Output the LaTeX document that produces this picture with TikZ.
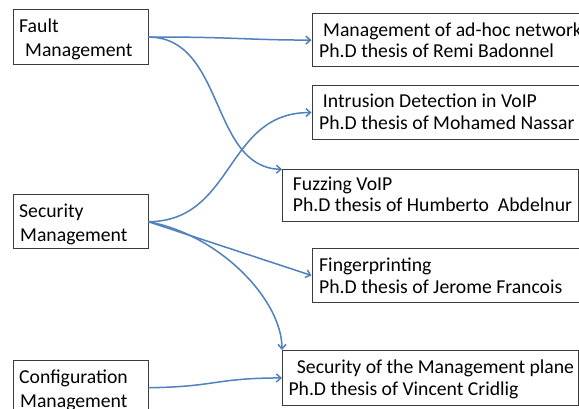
\documentclass[tikz,border=0pt]{standalone}
\usepackage{fontspec}
\setmainfont{Carlito}
\usetikzlibrary{arrows.meta}
\definecolor{connblue}{RGB}{79,129,189}
\definecolor{frame}{RGB}{60,60,60}
\begin{document}
\begin{tikzpicture}[x=1pt,y=-1pt,
  box/.style={draw=frame, line width=0.9pt, rectangle, inner sep=0pt, anchor=north west},
  txt/.style={inner sep=0pt, anchor=base west, font=\fontsize{19.7}{23}\selectfont, text=black},
  conn/.style={draw=connblue, line width=1.5pt, -{Straight Barb[length=4.5pt,width=8pt]}}]
\useasboundingbox (0,0) rectangle (579,409);
\clip (0,0) rectangle (579,409);
\fill[white] (0,0) rectangle (579,409);
% left boxes
\node[box, minimum width=135pt, minimum height=54.7pt] (f) at (12.5,9.3) {};
\node[box, minimum width=135pt, minimum height=54pt] (s) at (12.5,194.3) {};
\node[box, minimum width=135pt, minimum height=54.5pt] (c) at (12.5,360) {};
% right boxes
\node[box, minimum width=300pt, minimum height=52.7pt] (b1) at (311.5,13.3) {};
\node[box, minimum width=300pt, minimum height=53.7pt] (b2) at (311.5,85.3) {};
\node[box, minimum width=296pt, minimum height=51.7pt] (b3) at (282,169.3) {};
\node[box, minimum width=300pt, minimum height=54pt] (b4) at (311.5,248) {};
\node[box, minimum width=296pt, minimum height=55pt] (b5) at (282,350) {};
% texts
\node[txt] (f1) at (19,32.7) {Fault};
\node[txt] (f2) at (25,56.2) {Management};
\node[txt] (s1) at (19,217.7) {Security};
\node[txt] (s2) at (20,241) {Management};
\node[txt] (c1) at (19,383.4) {Configuration};
\node[txt] (c2) at (20,407) {Management};
\node[txt] (t11) at (323,36.3) {Management of ad-hoc network};
\node[txt] (t12) at (319,57.8) {Ph.D thesis of Remi Badonnel};
\node[txt] (t21) at (322.7,108) {Intrusion Detection in VoIP};
\node[txt] (t22) at (319,129.5) {Ph.D thesis of Mohamed Nassar};
\node[txt] (t31) at (292.7,190.3) {Fuzzing VoIP};
\node[txt] (t32) at (292.7,211.8) {Ph.D thesis of Humberto\ \ Abdelnur};
\node[txt] (t41) at (319,272) {Fingerprinting};
\node[txt] (t42) at (319,294) {Ph.D thesis of Jerome Francois};
\node[txt] (t51) at (296.7,373.5) {Security of the Management plane};
\node[txt] (t52) at (288.3,395.5) {Ph.D thesis of Vincent Cridlig};
% connectors
\draw[conn] (f.east) .. controls (230,36.7) and (245,40) .. (b1.west);
\draw[conn] (f.east) .. controls (225,37) and (210,168) .. (b3.north west);
\draw[conn] (s.east) .. controls (235,221) and (225,112) .. (b2.west);
\draw[conn] (s.east) -- (b4.west);
\draw[conn] (s.east) .. controls (220,235) and (282,300) .. (b5.north west);
\draw[conn] (c.east) .. controls (215,387) and (215,378) .. (b5.west);
\end{tikzpicture}
\end{document}
